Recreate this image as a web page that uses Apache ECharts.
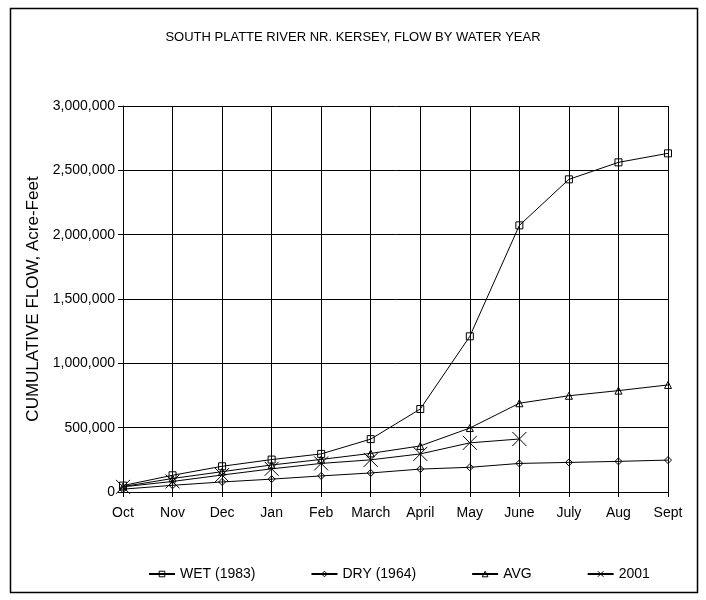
<!DOCTYPE html>
<html>
<head>
<meta charset="utf-8">
<script src="https://cdn.jsdelivr.net/npm/echarts@6/dist/echarts.min.js"></script>
<style>
  html, body { margin: 0; padding: 0; background: #fff; }
  #main { width: 706px; height: 600px; }
</style>
</head>
<body>
<div id="main"></div>
<script>
// months of the water year
var months = ['Oct', 'Nov', 'Dec', 'Jan', 'Feb', 'March', 'April', 'May', 'June', 'July', 'Aug', 'Sept']
// cumulative flow, acre-feet
var wet1983 = [50000, 130000, 200000, 252000, 296000, 411000, 645000, 1210000, 2072000, 2430000, 2562000, 2632000]
var dry1964 = [22000, 52000, 78000, 100000, 125000, 148000, 178000, 192000, 222000, 230000, 238000, 248000]
var avgFlow = [42000, 105000, 158000, 210000, 253000, 300000, 358000, 497000, 690000, 748000, 788000, 832000]
var flow2001 = [40000, 82000, 132000, 180000, 222000, 250000, 296000, 382000, 412000]

var font = 'Liberation Sans'
var xMark = 'path://M0,0L10,10M10,0L0,10'

function mkSeries(name, data, symbol, size) {
  return {
    name: name,
    type: 'line',
    data: data,
    symbol: symbol,
    symbolSize: size,
    showAllSymbol: true,
    lineStyle: { color: '#000', width: 1 },
    itemStyle: { color: 'rgba(0,0,0,0)', borderColor: '#000', borderWidth: 1 },
    emphasis: { disabled: true },
    animation: false
  }
}

var chart = echarts.init(document.getElementById('main'))
var option = {
  backgroundColor: '#fff',
  textStyle: { fontFamily: font, color: '#000' },
  title: {
    text: 'SOUTH PLATTE RIVER NR. KERSEY, FLOW BY WATER YEAR',
    left: 'center',
    top: 26,
    textStyle: { fontFamily: font, fontSize: 13, fontWeight: 'normal', color: '#000' }
  },
  graphic: [{
    type: 'rect',
    shape: { x: 10.5, y: 8.5, width: 687, height: 584 },
    style: { fill: 'none', stroke: '#000', lineWidth: 1.5 },
    silent: true
  }],
  legend: {
    bottom: 14,
    left: 143,
    itemGap: 55,
    itemWidth: 26,
    itemHeight: 7,
    itemStyle: { borderWidth: 1 },
    textStyle: { fontFamily: font, fontSize: 14, color: '#000' },
    data: ['WET (1983)', 'DRY (1964)', 'AVG', '2001']
  },
  grid: { left: 123, right: 38, top: 106, bottom: 108 },
  xAxis: {
    type: 'category',
    data: months,
    boundaryGap: false,
    axisLine: { lineStyle: { color: '#000', width: 1 } },
    axisTick: { show: true, interval: 0, length: 5, lineStyle: { color: '#000' } },
    axisLabel: { interval: 0, hideOverlap: false, fontFamily: font, fontSize: 14, color: '#000', margin: 14 },
    splitLine: { show: true, interval: 0, lineStyle: { color: '#000', width: 1 } }
  },
  yAxis: {
    type: 'value',
    min: 0,
    max: 3000000,
    interval: 500000,
    name: 'CUMULATIVE FLOW, Acre-Feet',
    nameLocation: 'middle',
    nameGap: 80,
    nameTextStyle: { fontFamily: font, fontSize: 17, color: '#000' },
    axisLine: { show: true, lineStyle: { color: '#000', width: 1 } },
    axisTick: { show: true, length: 5, lineStyle: { color: '#000' } },
    axisLabel: {
      fontFamily: font, fontSize: 14, color: '#000', margin: 8,
      formatter: function (v) { return v.toLocaleString('en-US') }
    },
    splitLine: { show: true, lineStyle: { color: '#000', width: 1 } }
  },
  series: [
    mkSeries('WET (1983)', wet1983, 'rect', 7),
    mkSeries('DRY (1964)', dry1964, 'diamond', 7),
    mkSeries('AVG', avgFlow, 'triangle', 7),
    mkSeries('2001', flow2001, xMark, 14)
  ]
}
chart.setOption(option)
</script>
</body>
</html>
